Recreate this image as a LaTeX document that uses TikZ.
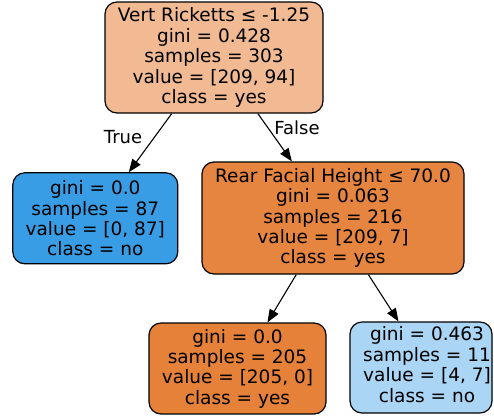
\documentclass[tikz,border=0pt]{standalone}
\usepackage{fontspec}
\setmainfont{DejaVu Sans}
\usepackage{tikz}
\usetikzlibrary{arrows.meta, positioning}

\definecolor{splitorange}{HTML}{F1BA92}
\definecolor{deeporange}{HTML}{E6853F}
\definecolor{pureorange}{HTML}{E58139}
\definecolor{pureblue}{HTML}{399DE5}
\definecolor{paleblue}{HTML}{AAD5F4}

\begin{document}
\begin{tikzpicture}[x=1pt,y=-1pt]
	\tikzset{TreeNode/.style = {draw, rounded corners=12pt, line width=1.2pt, align=center, inner sep=0pt, font=\fontsize{18.5}{20.4}\selectfont}}
	\tikzset{EdgeStyle/.style = {line width=1.1pt, -{Triangle[length=13pt,width=10pt]}}}
	\tikzset{EdgeLabel/.style = {inner sep=0pt, font=\fontsize{18}{20}\selectfont}}
	\useasboundingbox (0,0) rectangle (494,416);% whole picture
	
	\node[TreeNode, fill=splitorange, minimum width=218pt, minimum height=111pt] (R1) at (214,57.5) {Vert Ricketts ≤ -1.25\\gini = 0.428\\samples = 303\\value = [209, 94]\\class = yes};
	
	\node[TreeNode, fill=pureblue, minimum width=165pt, minimum height=91pt] (R2) at (95.3,218.3) {gini = 0.0\\samples = 87\\value = [0, 87]\\class = no};
	\node[TreeNode, fill=deeporange, minimum width=262pt, minimum height=112pt] (R3) at (333,218) {Rear Facial Height ≤ 70.0\\gini = 0.063\\samples = 216\\value = [209, 7]\\class = yes};
	
	\node[TreeNode, fill=pureorange, minimum width=177pt, minimum height=91pt] (R4) at (237.5,368.5) {gini = 0.0\\samples = 205\\value = [205, 0]\\class = yes};
	% text sits a little right of the box centre here
	\node[TreeNode, fill=paleblue, minimum width=142pt, minimum height=91pt] (R5) at (421,367.5) {\begin{tabular}{@{\hspace{12pt}}c@{}}gini = 0.463\\samples = 11\\value = [4, 7]\\class = no\end{tabular}};
	
	%%%%%%%%%%%%%%%%%%%%%%%%%%%%%%
	
	\draw[EdgeStyle] (R1.233) -- (R2.54);
	\draw[EdgeStyle] (R1.308) -- (R3.126);
	\draw[EdgeStyle] (R3.237) -- (R4.57);
	\draw[EdgeStyle] (R3.302) -- (R5.116);
	
	\node[EdgeLabel] (T) at (123,137) {True};
	\node[EdgeLabel] (F) at (297,128) {False};
	
\end{tikzpicture}
\end{document}
